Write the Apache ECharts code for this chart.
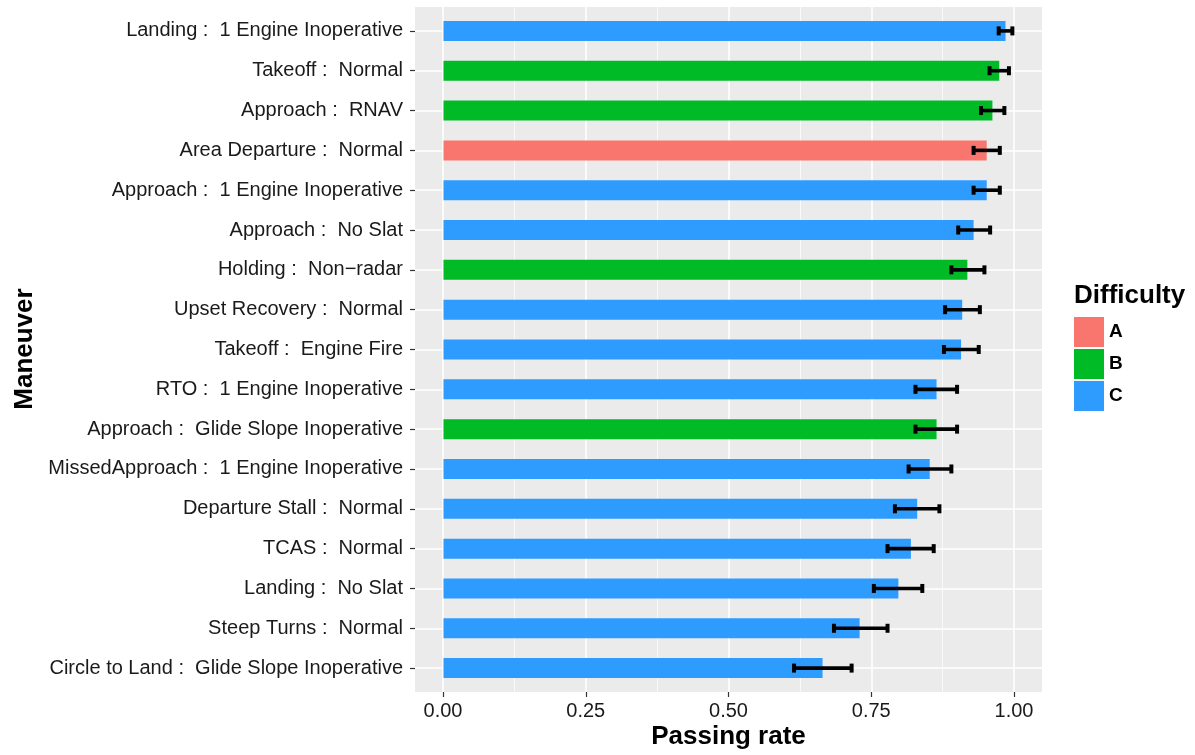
<!DOCTYPE html>
<html>
<head>
<meta charset="utf-8">
<script src="https://cdn.jsdelivr.net/npm/echarts@6/dist/echarts.min.js"></script>
<style>
  html, body { margin: 0; padding: 0; background: #ffffff; }
  #chart { width: 1195px; height: 755px; }
</style>
</head>
<body>
<div id="chart"></div>
<script>
// Maneuvers, listed top to bottom
const maneuvers = [
  'Landing :  1 Engine Inoperative',
  'Takeoff :  Normal',
  'Approach :  RNAV',
  'Area Departure :  Normal',
  'Approach :  1 Engine Inoperative',
  'Approach :  No Slat',
  'Holding :  Non\u2212radar',
  'Upset Recovery :  Normal',
  'Takeoff :  Engine Fire',
  'RTO :  1 Engine Inoperative',
  'Approach :  Glide Slope Inoperative',
  'MissedApproach :  1 Engine Inoperative',
  'Departure Stall :  Normal',
  'TCAS :  Normal',
  'Landing :  No Slat',
  'Steep Turns :  Normal',
  'Circle to Land :  Glide Slope Inoperative'
];
const difficulty = ['C','B','B','A','C','C','B','C','C','C','B','C','C','C','C','C','C'];
const passRate = [0.986, 0.975, 0.963, 0.953, 0.953, 0.930, 0.919, 0.910, 0.908,
                  0.865, 0.865, 0.853, 0.831, 0.820, 0.798, 0.730, 0.665];
const lowerCI  = [0.974, 0.958, 0.943, 0.930, 0.930, 0.903, 0.891, 0.880, 0.878,
                  0.828, 0.828, 0.816, 0.792, 0.779, 0.755, 0.685, 0.615];
const upperCI  = [0.998, 0.992, 0.984, 0.976, 0.976, 0.959, 0.949, 0.941, 0.939,
                  0.901, 0.901, 0.891, 0.870, 0.860, 0.840, 0.779, 0.716];
const levels = ['A', 'B', 'C'];
const xTicks = [0, 0.25, 0.5, 0.75, 1];

const levelColors = { A: '#F8766D', B: '#00BA26', C: '#2E9BFF' };
const FONT = '"Liberation Sans", Arial, Helvetica, sans-serif';

const chart = echarts.init(document.getElementById('chart'), null, { renderer: 'canvas' });

// one stacked bar series per difficulty level so they share a slot and feed the legend
const barSeries = levels.map(lv => ({
  name: lv,
  type: 'bar',
  xAxisIndex: 2,
  yAxisIndex: 2,
  stack: 'rate',
  barWidth: 20,
  clip: false,
  itemStyle: { color: levelColors[lv] },
  emphasis: { disabled: true },
  data: passRate.map((v, i) => (difficulty[i] === lv ? v : '-')),
  z: 3
}));

const errorSeries = {
  type: 'custom',
  xAxisIndex: 2,
  yAxisIndex: 2,
  clip: false,
  z: 4,
  data: maneuvers.map((m, i) => [lowerCI[i], upperCI[i], i]),
  encode: { x: [0, 1], y: 2 },
  renderItem: function (params, api) {
    const idx = api.value(2);
    const p0 = api.coord([api.value(0), idx]);
    const p1 = api.coord([api.value(1), idx]);
    const cap = 4.5;
    const st = { stroke: '#000', lineWidth: 3.6 };
    const capSt = { stroke: '#000', lineWidth: 4 };
    return {
      type: 'group',
      children: [
        { type: 'line', shape: { x1: p0[0], y1: p0[1], x2: p1[0], y2: p1[1] }, style: st },
        { type: 'line', shape: { x1: p0[0], y1: p0[1] - cap, x2: p0[0], y2: p0[1] + cap }, style: capSt },
        { type: 'line', shape: { x1: p1[0], y1: p1[1] - cap, x2: p1[0], y2: p1[1] + cap }, style: capSt }
      ]
    };
  }
};

chart.setOption({
  animation: false,
  backgroundColor: '#ffffff',
  textStyle: { fontFamily: FONT },
  grid: [
    // panel background
    { left: 415, right: 153, top: 7, bottom: 63, show: true, backgroundColor: '#EBEBEB', borderWidth: 0, z: -1 },
    // vertical grid lines and x tick labels (0 to 1)
    { left: 443, right: 181, top: 7, bottom: 63, show: false },
    // data panel: categories at row centres
    { left: 415, right: 153, top: 30.9, bottom: 86.9, show: false }
  ],
  xAxis: [
    { gridIndex: 0, type: 'value', min: 0, max: 1, show: false },
    {
      gridIndex: 1, type: 'value', min: 0, max: 1, interval: 0.25, z: 1,
      axisLine: { show: false, onZero: false },
      axisTick: { show: true, length: 5, lineStyle: { color: '#333333', width: 1.2 } },
      axisLabel: {
        show: true, margin: 9, color: '#1a1a1a', fontSize: 20, fontFamily: FONT,
        formatter: v => (xTicks.indexOf(v) >= 0 ? v.toFixed(2) : '')
      },
      splitLine: { show: true, lineStyle: { color: '#ffffff', width: 1.6 } },
      minorTick: { show: false, splitNumber: 2 },
      minorSplitLine: { show: true, lineStyle: { color: '#ffffff', width: 0.7 } }
    },
    { gridIndex: 2, type: 'value', min: -0.05, max: 1.05, show: false, axisLine: { onZero: false } }
  ],
  yAxis: [
    { gridIndex: 0, type: 'value', show: false },
    { gridIndex: 1, type: 'value', show: false },
    {
      gridIndex: 2, type: 'category', data: maneuvers, inverse: true, boundaryGap: false, z: 1,
      axisLine: { show: false, onZero: false },
      axisTick: { show: true, length: 5, lineStyle: { color: '#333333', width: 1.2 } },
      axisLabel: { show: true, margin: 12, color: '#1a1a1a', fontSize: 20, fontFamily: FONT, interval: 0 },
      splitLine: { show: true, interval: 0, lineStyle: { color: '#ffffff', width: 1.6 } }
    }
  ],
  title: {
    text: 'Difficulty',
    left: 1074,
    top: 283,
    padding: 0,
    textStyle: { fontFamily: FONT, fontSize: 26, fontWeight: 'bold', color: '#000' }
  },
  legend: {
    data: levels,
    orient: 'vertical',
    left: 1074,
    top: 317,
    padding: 0,
    itemWidth: 30,
    itemHeight: 30,
    itemGap: 2,
    icon: 'rect',
    selectedMode: false,
    textStyle: { fontFamily: FONT, fontSize: 19, fontWeight: 'bold', color: '#000' }
  },
  graphic: [
    {
      type: 'text', x: 728.5, y: 737,
      style: { text: 'Passing rate', font: 'bold 26px ' + FONT, fill: '#000', align: 'center', verticalAlign: 'middle' }
    },
    {
      type: 'text', x: 25, y: 349, rotation: Math.PI / 2,
      style: { text: 'Maneuver', font: 'bold 26px ' + FONT, fill: '#000', align: 'center', verticalAlign: 'middle' }
    }
  ],
  series: [...barSeries, errorSeries]
});
</script>
</body>
</html>
